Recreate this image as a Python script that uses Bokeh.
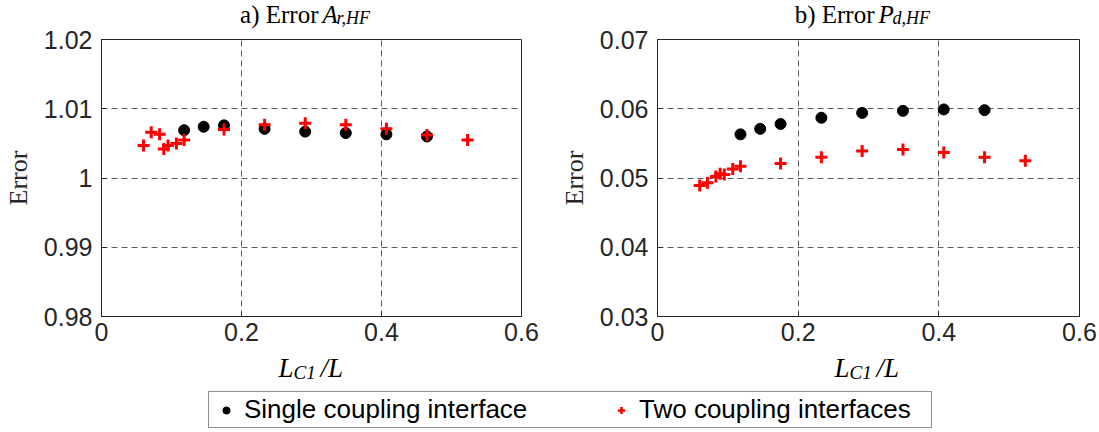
from bokeh.plotting import figure
from bokeh.models import (Range1d, FixedTicker, CustomJSTickFormatter, Label,
                          Legend, LegendItem)
from bokeh.layouts import column, row
from bokeh.embed import file_html
from bokeh.resources import INLINE

# ---------------- data ----------------
x_single = [0.118, 0.146, 0.175, 0.233, 0.291, 0.349, 0.407, 0.465]
x_two = [0.060, 0.071, 0.083, 0.089, 0.095, 0.107, 0.118,
         0.175, 0.233, 0.291, 0.349, 0.407, 0.465, 0.523]

ar_single = [1.0069, 1.0074, 1.0076, 1.0071, 1.0067, 1.0065, 1.0063, 1.0060]
ar_two = [1.0047, 1.0066, 1.0063, 1.0042, 1.0047, 1.0050, 1.0055,
          1.0070, 1.0077, 1.0079, 1.0077, 1.0071, 1.0062, 1.0055]

pd_single = [0.0563, 0.0571, 0.0578, 0.0587, 0.0594, 0.0597, 0.0599, 0.0598]
pd_two = [0.0489, 0.0493, 0.0502, 0.0506, 0.0505, 0.0513, 0.0517,
          0.0521, 0.0530, 0.0539, 0.0541, 0.0537, 0.0530, 0.0525]

x_ticks = [0, 0.2, 0.4, 0.6]
ar_ticks = [0.98, 0.99, 1.0, 1.01, 1.02]
pd_ticks = [0.03, 0.04, 0.05, 0.06, 0.07]

label_single = "Single coupling interface"
label_two = "Two coupling interfaces"
titles = [("a) Error", "A", "r,HF"), ("b) Error", "P", "d,HF")]

# ---------------- styling ----------------
DARK = "#262626"
SANS = "Liberation Sans"
SERIF = "Liberation Serif"
TICK_FS = "25px"
W = 1099
TOP_H = 30          # title strip
MAIN_TOP = 9
FRAME_H = 277
MAIN_BOT = 30
MAIN_H = MAIN_TOP + FRAME_H + MAIN_BOT
BOT_H = 432 - TOP_H - MAIN_H
SHIFT = 10          # compensates the baseline offset of rendered labels

fmt = CustomJSTickFormatter(code="""
    let s = tick.toFixed(2);
    s = s.replace(/\\.?0+$/, '');
    return s;
""")


def strip(height, y0=0.0):
    s = figure(width=W, height=height, output_backend="svg",
               toolbar_location=None, x_axis_location=None,
               y_axis_location=None, x_range=Range1d(0, W),
               y_range=Range1d(y0, y0 + height),
               min_border_left=0, min_border_right=0,
               min_border_top=0, min_border_bottom=0)
    s.grid.visible = False
    s.outline_line_color = None
    s.background_fill_color = "white"
    s.border_fill_color = "white"
    return s


def add_text(fig, x, y, text, size, italic=False, align="left"):
    fig.add_layout(Label(x=x, y=y, text=text, text_font=SERIF,
                         text_font_style="italic" if italic else "normal",
                         text_font_size=size, text_align=align,
                         text_baseline="alphabetic", text_color="black"))


def make_panel(width, left, right, yrange, yticks, ys, yt):
    p = figure(width=width, height=MAIN_H, output_backend="svg",
               toolbar_location=None,
               x_range=Range1d(0, 0.6), y_range=Range1d(*yrange),
               min_border_left=left, min_border_right=right,
               min_border_top=MAIN_TOP, min_border_bottom=MAIN_BOT)
    p.background_fill_color = "white"
    p.border_fill_color = "white"
    p.outline_line_color = DARK
    p.outline_line_width = 1

    for ax, ticks in ((p.xaxis[0], x_ticks), (p.yaxis[0], yticks)):
        ax.ticker = FixedTicker(ticks=ticks)
        ax.formatter = fmt
        ax.major_label_text_font = SANS
        ax.major_label_text_font_size = TICK_FS
        ax.major_label_text_color = DARK
        ax.axis_line_color = DARK
        ax.major_tick_line_color = DARK
        ax.major_tick_in = 5
        ax.major_tick_out = 0
        ax.minor_tick_line_color = None
    p.xaxis.major_label_standoff = 6
    p.yaxis.major_label_standoff = 9

    p.yaxis.axis_label = "Error"
    p.yaxis.axis_label_text_font = SERIF
    p.yaxis.axis_label_text_font_style = "normal"
    p.yaxis.axis_label_text_font_size = "26px"
    p.yaxis.axis_label_text_color = DARK
    p.yaxis.axis_label_standoff = 8

    for g in (p.xgrid[0], p.ygrid[0]):
        g.grid_line_color = DARK
        g.grid_line_alpha = 0.75
        g.grid_line_dash = "6 4"
        g.grid_line_width = 1
    p.xgrid.ticker = FixedTicker(ticks=x_ticks)
    p.ygrid.ticker = FixedTicker(ticks=yticks)

    p.scatter(x_single, ys, marker="circle", size=11, fill_color="black",
              line_color="black")
    p.scatter(x_two, yt, marker="cross", size=12, line_color="red",
              line_width=3)
    return p


p1 = make_panel(550, 101, 29, (0.98, 1.02), ar_ticks, ar_single, ar_two)
p2 = make_panel(549, 107, 20, (0.03, 0.07), pd_ticks, pd_single, pd_two)

# ---------------- title strip ----------------
top = strip(TOP_H)
for dx, (prefix, var, sub) in zip((0, 556), titles):
    add_text(top, 318 + dx, TOP_H - 23.5 + SHIFT, prefix, "25px", align="right")
    add_text(top, 322 + dx, TOP_H - 23.5 + SHIFT, var, "25px", italic=True)
    add_text(top, 336 + dx, TOP_H - 27 + SHIFT, sub, "18px", italic=True)

# ---------------- x labels + legend strip ----------------
Y0 = 1000.0
bot = strip(BOT_H, Y0)
main_bottom = TOP_H + MAIN_H
for dx in (0, 556):
    add_text(bot, 278 + dx, Y0 + BOT_H - (377 - main_bottom) + SHIFT, "L", "27px", italic=True)
    add_text(bot, 293 + dx, Y0 + BOT_H - (382 - main_bottom) + SHIFT, "C1", "19px", italic=True)
    add_text(bot, 320 + dx, Y0 + BOT_H - (377 - main_bottom) + SHIFT, "/L", "27px", italic=True)

# legend entries reuse the chart data (points fall outside this strip's ranges)
r1 = bot.scatter(x_single, ar_single, marker="circle", size=7,
                 fill_color="black", line_color="black")
r2 = bot.scatter(x_two, ar_two, marker="cross", size=9,
                 line_color="red", line_width=2.5)
leg = Legend(items=[LegendItem(label=label_single, renderers=[r1]),
                    LegendItem(label=label_two, renderers=[r2])],
             orientation="horizontal", location=(208, 4),
             label_text_font=SANS, label_text_font_size="26px",
             label_text_color="black",
             glyph_width=30, glyph_height=18, label_standoff=3,
             label_width=290, spacing=72, padding=2, margin=0,
             border_line_color=DARK, border_line_width=1,
             background_fill_color="white", background_fill_alpha=1)
bot.add_layout(leg, "center")

layout = column(top, row(p1, p2), bot)
open("out.html", "w").write(file_html(layout, INLINE))
